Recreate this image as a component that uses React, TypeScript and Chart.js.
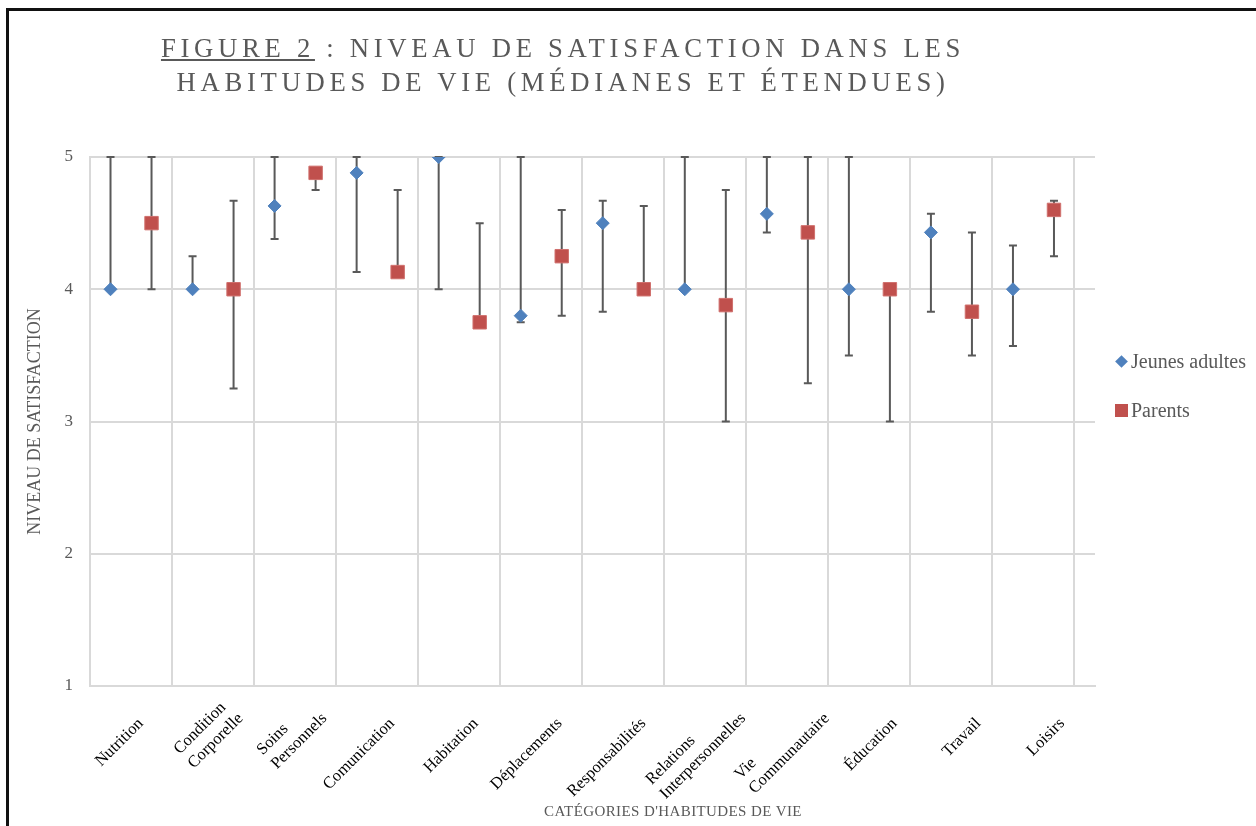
import React, { useEffect, useRef } from 'react';
import { Chart, registerables } from 'chart.js';

Chart.register(...registerables);

// ---- Data ----
const categories: (string | string[])[] = [
  'Nutrition',
  ['Condition', 'Corporelle'],
  ['Soins', 'Personnels'],
  'Comunication',
  'Habitation',
  'Déplacements',
  'Responsabilités',
  ['Relations', 'Interpersonnelles'],
  ['Vie', 'Communautaire'],
  'Éducation',
  'Travail',
  'Loisirs',
];

const jeunesMedian = [4, 4, 4.63, 4.88, 5, 3.8, 4.5, 4, 4.57, 4, 4.43, 4];
const jeunesMin = [4, 4, 4.38, 4.13, 4, 3.75, 3.83, 4, 4.43, 3.5, 3.83, 3.57];
const jeunesMax = [5, 4.25, 5, 5, 5, 5, 4.67, 5, 5, 5, 4.57, 4.33];

const parentsMedian = [4.5, 4, 4.88, 4.13, 3.75, 4.25, 4, 3.88, 4.43, 4, 3.83, 4.6];
const parentsMin = [4, 3.25, 4.75, 4.13, 3.75, 3.8, 4, 3, 3.29, 3, 3.5, 4.25];
const parentsMax = [5, 4.67, 4.88, 4.75, 4.5, 4.6, 4.63, 4.75, 5, 4, 4.43, 4.67];

const yMin = 1;
const yMax = 5;

const seriesNames = ['Jeunes adultes', 'Parents'];
const titleLine1a = 'FIGURE 2';
const titleLine1b = ' : NIVEAU DE SATISFACTION DANS LES';
const titleLine2 = 'HABITUDES DE VIE (MÉDIANES ET ÉTENDUES)';
const yTitle = 'NIVEAU DE SATISFACTION';
const xTitle = "CATÉGORIES D'HABITUDES DE VIE";

const SERIF = "'Liberation Serif', 'Times New Roman', serif";
const GRID = '#d9d9d9';
const TEXT_GRAY = '#595959';
const BLUE = '#4F81BD';
const RED = '#C0504D';
const LABEL_SIZE = 16.5;
const LABEL_LINE = 20;

const errorBarPlugin = {
  id: 'errorBars',
  beforeDatasetsDraw(chart: any) {
    const { ctx } = chart;
    const y = chart.scales.y;
    ctx.save();
    ctx.strokeStyle = '#595959';
    ctx.lineWidth = 2;
    chart.data.datasets.forEach((ds: any, di: number) => {
      const meta = chart.getDatasetMeta(di);
      meta.data.forEach((pt: any, i: number) => {
        const px = pt.x;
        const lo = y.getPixelForValue(ds.errMin[i]);
        const hi = y.getPixelForValue(ds.errMax[i]);
        ctx.beginPath();
        ctx.moveTo(px, lo);
        ctx.lineTo(px, hi);
        ctx.moveTo(px - 4, lo);
        ctx.lineTo(px + 4, lo);
        ctx.moveTo(px - 4, hi);
        ctx.lineTo(px + 4, hi);
        ctx.stroke();
      });
    });
    ctx.restore();
  },
};

// Rotated, left-aligned multi-line category labels (drawn at the category scale's ticks)
const categoryLabelPlugin = {
  id: 'categoryLabels',
  afterDraw(chart: any) {
    const { ctx } = chart;
    const sc = chart.scales.xCat;
    const base = chart.chartArea.bottom;
    ctx.save();
    ctx.font = `${LABEL_SIZE}px ${SERIF}`;
    ctx.fillStyle = '#000';
    ctx.textBaseline = 'middle';
    ctx.textAlign = 'left';
    categories.forEach((lab, i) => {
      const lines = Array.isArray(lab) ? lab : [lab];
      const n = lines.length;
      const W = Math.max(...lines.map((l) => ctx.measureText(l).width));
      const t = sc.getPixelForValue(i);
      const ex = t + 9 + (n - 1) * 16;
      const ey = base + 35 - (n - 1) * 5;
      ctx.save();
      ctx.translate(ex, ey);
      ctx.rotate(-Math.PI / 4);
      lines.forEach((l, k) => {
        ctx.fillText(l, -W, -(n - 1 - k) * LABEL_LINE);
      });
      ctx.restore();
    });
    ctx.restore();
  },
};

export default function App() {
  const canvasRef = useRef<HTMLCanvasElement>(null);

  useEffect(() => {
    const chart = new Chart(canvasRef.current as HTMLCanvasElement, {
      type: 'scatter',
      data: {
        datasets: [
          {
            label: seriesNames[0],
            data: jeunesMedian.map((v, i) => ({ x: i + 0.25, y: v })),
            errMin: jeunesMin,
            errMax: jeunesMax,
            pointStyle: 'rectRot',
            pointRadius: 6.5,
            pointBorderWidth: 1,
            backgroundColor: BLUE,
            borderColor: BLUE,
          } as any,
          {
            label: seriesNames[1],
            data: parentsMedian.map((v, i) => ({ x: i + 0.75, y: v })),
            errMin: parentsMin,
            errMax: parentsMax,
            pointStyle: 'rect',
            pointRadius: 9.5,
            pointBorderWidth: 1,
            backgroundColor: RED,
            borderColor: '#d0706d',
          } as any,
        ],
      },
      options: {
        animation: false,
        responsive: false,
        devicePixelRatio: 1,
        events: [],
        layout: { padding: { left: 0, top: 157, right: 161, bottom: 0 } },
        plugins: {
          legend: { display: false },
          tooltip: { enabled: false },
        },
        scales: {
          x: {
            type: 'linear',
            position: 'bottom',
            weight: 0,
            min: 0,
            max: 12.25,
            afterBuildTicks: (scale: any) => {
              const t: { value: number }[] = [];
              for (let k = 0; k <= categories.length; k++) t.push({ value: k });
              scale.ticks = t;
            },
            afterFit: (scale: any) => {
              scale.height = 0;
            },
            grid: { color: GRID, lineWidth: 2, drawTicks: false },
            border: { color: GRID, width: 2 },
            ticks: { display: false, autoSkip: false },
          },
          xCat: {
            type: 'category',
            position: 'bottom',
            weight: 1,
            labels: categories.map((c) => (Array.isArray(c) ? c.join(' ') : c)),
            offset: true,
            afterFit: (scale: any) => {
              scale.height = 140;
            },
            grid: { display: false, drawTicks: false },
            border: { display: false },
            ticks: { display: false },
          },
          y: {
            min: yMin,
            max: yMax,
            afterFit: (scale: any) => {
              scale.width = 90;
            },
            grid: { color: GRID, lineWidth: 2, drawTicks: false },
            border: { color: GRID, width: 2 },
            ticks: {
              stepSize: 1,
              padding: 17,
              color: TEXT_GRAY,
              font: { family: SERIF, size: 17 },
            },
            title: {
              display: true,
              text: yTitle,
              color: TEXT_GRAY,
              font: { family: SERIF, size: 18 },
              padding: { top: 24, bottom: 0 },
            },
          },
        },
      } as any,
      plugins: [errorBarPlugin, categoryLabelPlugin],
    });
    return () => chart.destroy();
  }, []);

  return (
    <div
      style={{
        position: 'fixed',
        left: 0,
        top: 0,
        width: 1256,
        height: 826,
        background: '#fff',
        overflow: 'hidden',
        fontFamily: SERIF,
      }}
    >
      <div
        style={{
          position: 'absolute',
          left: 6,
          top: 8,
          width: 1300,
          height: 900,
          borderLeft: '3px solid #111',
          borderTop: '3px solid #111',
        }}
      />
      <canvas
        ref={canvasRef}
        width={1256}
        height={826}
        style={{ position: 'absolute', left: 0, top: 0, width: 1256, height: 826 }}
      />
      <div
        style={{
          position: 'absolute',
          left: 0,
          top: 31,
          width: 1126,
          textAlign: 'center',
          fontSize: 26.7,
          lineHeight: '34px',
          letterSpacing: 4.7,
          color: TEXT_GRAY,
          whiteSpace: 'nowrap',
        }}
      >
        <div>
          <span style={{ textDecoration: 'underline' }}>{titleLine1a}</span>
          {titleLine1b}
        </div>
        <div>{titleLine2}</div>
      </div>
      <div
        style={{
          position: 'absolute',
          left: 473,
          top: 802,
          width: 400,
          textAlign: 'center',
          fontSize: 15,
          lineHeight: '18px',
          letterSpacing: 0.4,
          color: TEXT_GRAY,
          whiteSpace: 'nowrap',
        }}
      >
        {xTitle}
      </div>
      <div
        style={{
          position: 'absolute',
          left: 1116.5,
          top: 356.5,
          width: 9,
          height: 9,
          background: BLUE,
          transform: 'rotate(45deg)',
        }}
      />
      <div
        style={{
          position: 'absolute',
          left: 1131,
          top: 349,
          fontSize: 20,
          lineHeight: '24px',
          color: TEXT_GRAY,
          whiteSpace: 'nowrap',
        }}
      >
        {seriesNames[0]}
      </div>
      <div
        style={{
          position: 'absolute',
          left: 1115,
          top: 404,
          width: 13,
          height: 13,
          background: RED,
        }}
      />
      <div
        style={{
          position: 'absolute',
          left: 1131,
          top: 398,
          fontSize: 20,
          lineHeight: '24px',
          color: TEXT_GRAY,
          whiteSpace: 'nowrap',
        }}
      >
        {seriesNames[1]}
      </div>
    </div>
  );
}
